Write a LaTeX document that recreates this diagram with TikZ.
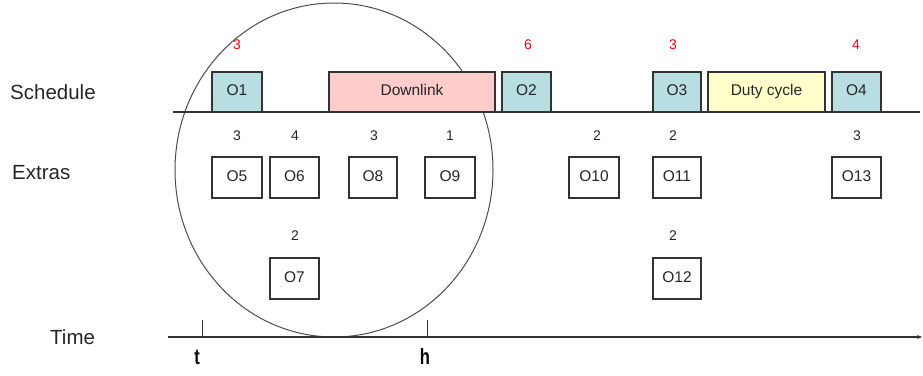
\documentclass[tikz,border=0pt]{standalone}
\usepackage{fontspec}
\setmainfont{Liberation Sans}
\usetikzlibrary{arrows.meta}
\definecolor{obox}{HTML}{B8DEE2}
\definecolor{dlbox}{HTML}{FFCCCC}
\definecolor{dcbox}{HTML}{FFFFCC}
\definecolor{edge}{HTML}{333333}
\definecolor{numred}{HTML}{FF0000}
\tikzset{
  box/.style={draw=edge, line width=1.2pt, inner sep=0pt, outer sep=0pt, minimum height=40pt, minimum width=49pt, font=\fontsize{15.5}{17}\selectfont, text=black!85, text height=10pt, text depth=3pt},
  obs/.style={box, fill=obox},
  xbox/.style={box, fill=white, minimum height=41pt},
  num/.style={font=\fontsize{14}{16}\selectfont, text=black!85, inner sep=0pt},
  rnum/.style={num, text=numred},
  rowlab/.style={font=\fontsize{20.5}{24}\selectfont, text=black!85, inner sep=0pt, anchor=west},
  tlab/.style={font=\bfseries\fontsize{22}{24}\selectfont, inner sep=0pt, xscale=0.75},
}
\begin{document}
\begin{tikzpicture}[x=1pt, y=-1pt]
\useasboundingbox (0,0) rectangle (923,375);
% circle
\draw[draw=black!70, line width=1pt] (334,170) ellipse [x radius=159, y radius=167];
% schedule line
\coordinate (sl) at (173,112);
\coordinate (sr) at (920,112);
\draw[draw=edge, line width=1.1pt] (sl) -- (sr);
% row labels
\node[rowlab] (schedule) at (10,92) {Schedule};
\node[rowlab] (extras) at (12,173) {Extras};
\node[rowlab] (time) at (50,337) {Time};
% schedule boxes
\node[obs, minimum width=50pt] (o1) at (237,92) {O1};
\node[box, fill=dlbox, minimum width=166pt] (dl) at (412,92) {Downlink};
\node[obs] (o2) at (526.5,92) {O2};
\node[obs, minimum width=48pt] (o3) at (677,92) {O3};
\node[box, fill=dcbox, minimum width=117pt] (dc) at (766.5,92) {Duty cycle};
\node[obs] (o4) at (856.5,92) {O4};
\node[rnum] (r1) at (237,45) {3};
\node[rnum] (r2) at (528,45) {6};
\node[rnum] (r3) at (673,45) {3};
\node[rnum] (r4) at (856,45) {4};
% extras
\node[xbox, minimum width=50pt] (o5) at (237,177.5) {O5};
\node[xbox] (o6) at (294.5,177.5) {O6};
\node[xbox, minimum width=48pt] (o8) at (373,177.5) {O8};
\node[xbox, minimum width=50pt] (o9) at (450,177.5) {O9};
\node[xbox, minimum width=50pt] (o10) at (594,177.5) {O10};
\node[xbox, minimum width=48pt] (o11) at (677,177.5) {O11};
\node[xbox] (o13) at (856.5,177.5) {O13};
\node[xbox] (o7) at (294.5,278.5) {O7};
\node[xbox, minimum width=48pt] (o12) at (677,278.5) {O12};
\node[num] (n5) at (237,136) {3};
\node[num] (n6) at (295,136) {4};
\node[num] (n8) at (374,136) {3};
\node[num] (n9) at (450,136) {1};
\node[num] (n10) at (597,136) {2};
\node[num] (n11) at (673,136) {2};
\node[num] (n13) at (857,136) {3};
\node[num] (n7) at (295,236) {2};
\node[num] (n12) at (673,236) {2};
% time axis
\coordinate (al) at (168,337);
\coordinate (ar) at (922,337);
\draw[draw=edge, line width=1.1pt, -{Stealth[length=5pt,width=4pt]}] (al) -- (ar);
\coordinate (tt) at (202,320);
\coordinate (tb) at (202,337);
\coordinate (ht) at (427,320);
\coordinate (hb) at (427,337);
\draw[draw=edge, line width=0.8pt] (tt) -- (tb);
\draw[draw=edge, line width=0.8pt] (ht) -- (hb);
\node[tlab] (tl) at (197,357) {t};
\node[tlab] (hl) at (425,357) {h};
\end{tikzpicture}
\end{document}
